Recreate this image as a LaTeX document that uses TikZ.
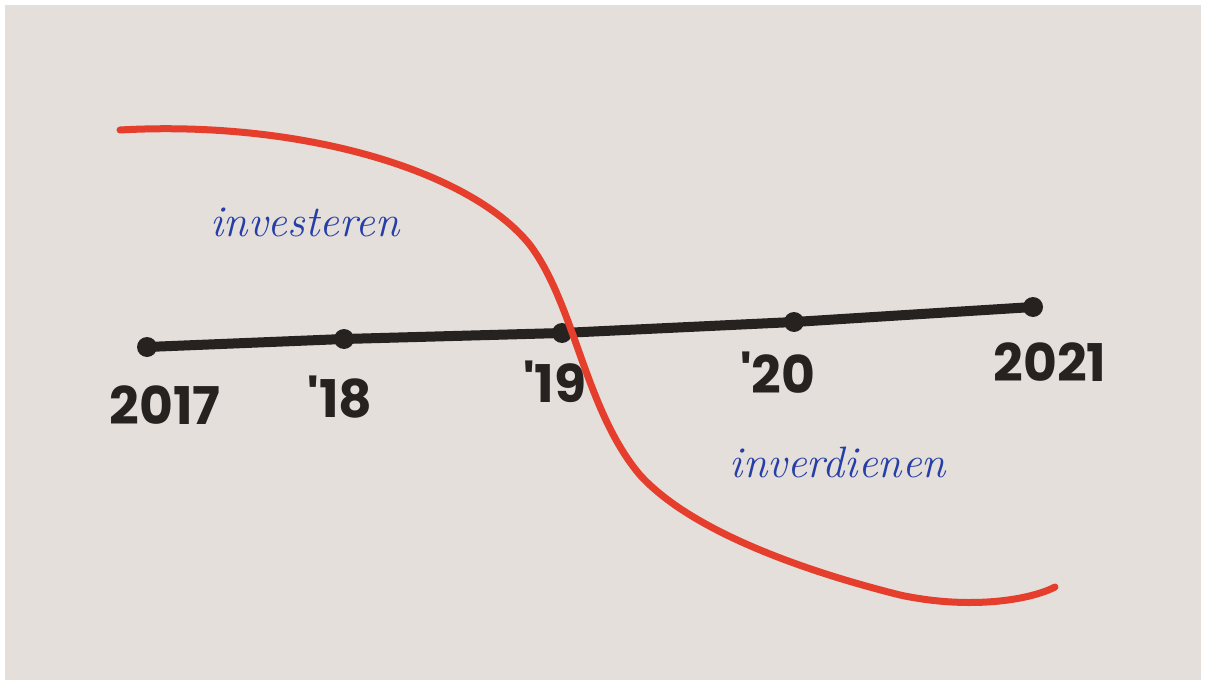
\documentclass[tikz,border=0pt]{standalone}
\usepackage{fontspec}
\newfontfamily\numfont{Poppins}
\definecolor{paper}{RGB}{228,223,218}
\definecolor{ink}{RGB}{38,34,32}
\definecolor{marker}{RGB}{230,62,44}
\definecolor{pen}{RGB}{38,62,168}
\tikzset{
  dot/.style={circle,fill=ink,inner sep=0pt,minimum size=10pt},
  yearlbl/.style={font=\numfont\bfseries\fontsize{26}{26}\selectfont,text=ink,inner sep=0pt},
  word/.style={font=\itshape\fontsize{22}{22}\selectfont,text=pen,inner sep=0pt}
}
\begin{document}
\begin{tikzpicture}[x=0.5pt,y=-0.5pt]
\fill[white] (0,0) rectangle (1206,680);
\fill[paper] (5,5) rectangle (1201,680);
% timeline
\node[dot] (d17) at (147,347) {};
\node[dot] (d18) at (344,339) {};
\node[dot] (d19) at (562,333) {};
\node[dot] (d20) at (794,322) {};
\node[dot] (d21) at (1033,307) {};
\draw[ink,line width=5pt,line cap=round] (d17.center) -- (d18.center) -- (d19.center) -- (d20.center) -- (d21.center);
% red curve
\coordinate (rs) at (120,130);
\coordinate (re) at (1055,587);
\draw[marker,line width=3.5pt,line cap=round]
  (rs) .. controls (300,120) and (470,170) .. (530,245)
       .. controls (575,305) and (585,410) .. (640,475)
       .. controls (690,530) and (800,570) .. (900,595)
       .. controls (970,610) and (1030,600) .. (re);
% labels
\node[yearlbl] (l17) at (165,405) {2017};
\node[yearlbl] (l18) at (340,397) {'18};
\node[yearlbl] (l19) at (555,382) {'19};
\node[yearlbl] (l20) at (778,373) {'20};
\node[yearlbl] (l21) at (1050,362) {2021};
\node[word] (w1) at (305,222) {investeren};
\node[word] (w2) at (838,462) {inverdienen};
\end{tikzpicture}
\end{document}
